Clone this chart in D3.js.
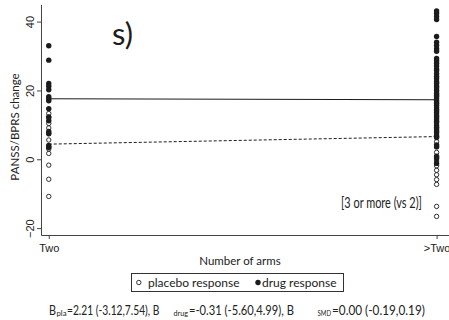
<!DOCTYPE html>
<html>
<head>
<meta charset="utf-8">
<script src="https://cdn.jsdelivr.net/npm/d3@7"></script>
<style>
  body { margin: 0; background: #fff; }
  svg { display: block; font-family: Lato, "Open Sans", sans-serif; }
  .axis path, .axis line { stroke: #444; }
  .axis text { fill: #222; font-size: 11px; }
</style>
</head>
<body>
<svg id="chart" width="449" height="320"></svg>
<script>
// categories on the x axis
let arms = ["Two", ">Two"];
let yTicks = [-20, 0, 20, 40];

// placebo response (open circles), one array per category
let placeboTwo = [13.3, 12.3, 10.4, 9.1, 7.5, 5.6, 3.5, 3.0, 1.7, -1.7, -5.8, -10.8];
let placeboMore = [20.1, 18.3, 16.2, 14.4, 12.5, 11.0, 9.3, 8.0, 6.6, 5.1, 3.8, 2.0, 0.6,
  -0.5, -1.9, -3.2, -4.5, -5.9, -7.3, -13.7, -16.6];

// drug response (filled circles)
let drugTwo = [33.0, 28.8, 22.0, 21.2, 20.2, 18.2, 17.6, 17.0, 14.7, 12.2, 11.2, 8.1, 7.4, 4.0, 3.5];
let drugMore = [43.1, 42.4, 41.5, 40.6, 35.7, 34.0, 33.1, 32.1, 31.4,
  29.3, 28.6, 27.9, 27.1, 26.2, 25.8, 24.9, 24.1, 23.5, 22.6, 22.1, 21.3, 20.8, 19.9,
  19.2, 18.6, 17.8, 17.1, 16.5, 15.7, 15.0, 14.2, 13.6, 12.9, 12.1, 11.4, 10.7, 9.8,
  9.1, 8.5, 7.7, 6.9, 6.3, 4.2, 3.6, 0.9, 0.2, -1.2];

// fitted meta-regression lines (value at Two, value at >Two)
let placeboFit = [4.4, 6.6];
let drugFit = [17.6, 17.3];

let svg = d3.select("#chart");

let x = d3.scaleLinear().domain([-0.02, 1.032]).range([41, 449]);
let y = d3.scaleLinear().domain([-22, 45]).range([235, 4.4]);

let ink = "#1c1c1c";

// squeeze a text horizontally so it spans w pixels from x
function fitText(sel, px, py, w) {
  let len = sel.node().getComputedTextLength();
  sel.attr("transform", `translate(${px},${py}) scale(${w / len},1)`);
  return sel;
}

// AXES

let yAxis = svg.append("g")
    .attr("class", "axis")
    .attr("transform", "translate(41,0)")
    .call(d3.axisLeft(y).tickValues(yTicks).tickSize(4).tickSizeOuter(0));

yAxis.selectAll("text")
    .attr("x", 0)
    .attr("dy", 0)
    .attr("transform", "translate(-7,0) rotate(-90)")
    .attr("text-anchor", "middle");

let xAxis = svg.append("g")
    .attr("class", "axis")
    .attr("transform", "translate(0,235)")
    .call(d3.axisBottom(x).tickValues([0, 1]).tickFormat(i => arms[i]).tickSize(4).tickSizeOuter(0));

xAxis.selectAll("text").attr("dy", "0.95em");

// axis titles
svg.append("text")
    .attr("transform", "translate(19,127) rotate(-90)")
    .attr("text-anchor", "middle")
    .attr("font-size", 11.5)
    .attr("fill", "#222")
    .text("PANSS/BPRS change");

svg.append("text")
    .attr("x", 240)
    .attr("y", 265)
    .attr("text-anchor", "middle")
    .attr("font-size", 11.5)
    .attr("fill", "#222")
    .text("Number of arms");

// FIT LINES

svg.append("line")
    .attr("x1", x(0)).attr("y1", y(drugFit[0]))
    .attr("x2", x(1)).attr("y2", y(drugFit[1]))
    .attr("stroke", ink)
    .attr("stroke-width", 1.1);

svg.append("line")
    .attr("x1", x(0)).attr("y1", y(placeboFit[0]))
    .attr("x2", x(1)).attr("y2", y(placeboFit[1]))
    .attr("stroke", ink)
    .attr("stroke-width", 1)
    .attr("stroke-dasharray", "3,2");

// POINTS

let placebo = placeboTwo.map(v => [0, v]).concat(placeboMore.map(v => [1, v]));
let drug = drugTwo.map(v => [0, v]).concat(drugMore.map(v => [1, v]));

svg.append("g").selectAll("circle")
    .data(placebo)
  .enter().append("circle")
    .attr("cx", d => x(d[0]))
    .attr("cy", d => y(d[1]))
    .attr("r", 2.2)
    .attr("fill", "none")
    .attr("stroke", ink)
    .attr("stroke-width", 0.9);

svg.append("g").selectAll("circle")
    .data(drug)
  .enter().append("circle")
    .attr("cx", d => x(d[0]))
    .attr("cy", d => y(d[1]))
    .attr("r", 2.7)
    .attr("fill", ink);

// panel letter and comparison label
svg.append("text")
    .attr("x", 112)
    .attr("y", 45)
    .attr("font-size", 31)
    .attr("fill", ink)
    .text("s)");

fitText(svg.append("text")
    .attr("font-size", 14.5)
    .attr("fill", "#222")
    .text("[3 or more (vs 2)]"), 341, 208, 81);

// LEGEND

let legend = svg.append("g");

legend.append("rect")
    .attr("x", 131.5).attr("y", 273.5)
    .attr("width", 212).attr("height", 18)
    .attr("fill", "none")
    .attr("stroke", "#333")
    .attr("stroke-width", 1);

legend.append("circle")
    .attr("cx", 138.8).attr("cy", 282.5).attr("r", 2.2)
    .attr("fill", "none").attr("stroke", ink).attr("stroke-width", 0.9);

legend.append("text")
    .attr("x", 148).attr("y", 287)
    .attr("font-size", 12).attr("fill", "#222")
    .text("placebo response");

legend.append("circle")
    .attr("cx", 258).attr("cy", 282.5).attr("r", 2.7)
    .attr("fill", ink);

legend.append("text")
    .attr("x", 262).attr("y", 287)
    .attr("font-size", 12).attr("fill", "#222")
    .text("drug response");

// regression coefficients
let parts = [
  {t: "B", x: 49, w: 7, sub: false},
  {t: "pla", x: 56.5, w: 10, sub: true},
  {t: "=2.21 (-3.12,7.54), B", x: 67, w: 92.5, sub: false},
  {t: "drug", x: 173.5, w: 14.5, sub: true},
  {t: "=-0.31 (-5.60,4.99), B", x: 189, w: 105, sub: false},
  {t: "SMD", x: 317.5, w: 13.5, sub: true},
  {t: "=0.00 (-0.19,0.19)", x: 332, w: 93, sub: false}
];

let stats = svg.append("g");

parts.forEach(p => {
  fitText(stats.append("text")
      .attr("font-size", p.sub ? 7 : 13)
      .attr("fill", "#222")
      .text(p.t), p.x, p.sub ? 316 : 315, p.w);
});
</script>
</body>
</html>
